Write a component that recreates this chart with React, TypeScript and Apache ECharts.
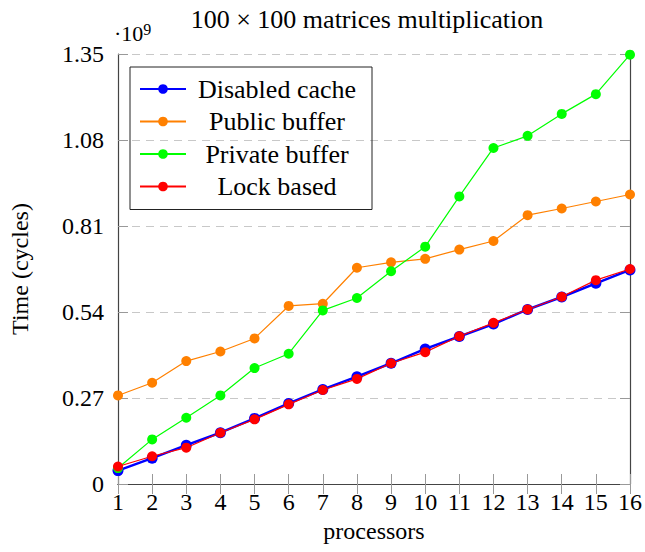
import React, { useEffect, useRef } from "react";
import * as echarts from "echarts";

const processors = [1, 2, 3, 4, 5, 6, 7, 8, 9, 10, 11, 12, 13, 14, 15, 16];
const disabledCache = [0.042, 0.081, 0.122, 0.161, 0.206, 0.253, 0.297, 0.337, 0.379, 0.424, 0.463, 0.502, 0.548, 0.587, 0.630, 0.672];
const publicBuffer = [0.278, 0.318, 0.386, 0.416, 0.457, 0.559, 0.566, 0.679, 0.696, 0.707, 0.736, 0.763, 0.844, 0.865, 0.887, 0.909];
const privateBuffer = [0.050, 0.140, 0.208, 0.278, 0.364, 0.409, 0.545, 0.584, 0.668, 0.745, 0.903, 1.055, 1.093, 1.162, 1.224, 1.348];
const lockBased = [0.055, 0.087, 0.114, 0.161, 0.203, 0.250, 0.295, 0.330, 0.379, 0.414, 0.464, 0.506, 0.548, 0.588, 0.640, 0.675];
const seriesNames = ["Disabled cache", "Public buffer", "Private buffer", "Lock based"];
const seriesColors = ["#0000ff", "#ff8000", "#00ff00", "#ff0000"];
const yTicks = [0, 0.27, 0.54, 0.81, 1.08, 1.35];

const FONT = "Liberation Serif";

export default function App() {
  const ref = useRef<HTMLDivElement>(null);
  useEffect(() => {
    if (!ref.current) return;
    const chart = echarts.init(ref.current, null, { renderer: "svg" });
    const allData = [disabledCache, publicBuffer, privateBuffer, lockBased];
    const series = seriesNames.map((name, i) => ({
      name,
      type: "line",
      data: processors.map((p, j) => [p, allData[i][j]]),
      symbol: "circle",
      symbolSize: i === 0 ? 11 : 10,
      itemStyle: { color: seriesColors[i] },
      lineStyle: { color: seriesColors[i], width: i === 0 ? 2.5 : 1.2 },
      z: 2 + i,
    }));
    const axisLine = { show: true, lineStyle: { color: "#444", width: 1.2 } };
    const axisTick = { show: true, inside: true, length: 10, lineStyle: { color: "#999", width: 1 } };
    const yMin = yTicks[0];
    const yMax = yTicks[yTicks.length - 1];
    const yInterval = yTicks[1] - yTicks[0];
    chart.setOption({
      animation: false,
      backgroundColor: "#fff",
      textStyle: { fontFamily: FONT },
      title: {
        text: "100 × 100 matrices multiplication",
        left: 362,
        top: 1,
        textAlign: "center",
        textStyle: { fontFamily: FONT, fontSize: 26, fontWeight: "normal", color: "#000" },
      },
      grid: { left: 114, right: 13, top: 54, bottom: 68 },
      legend: {
        orient: "vertical",
        left: 130,
        top: 67,
        padding: [9, 9, 10, 9],
        borderColor: "#222",
        borderWidth: 1,
        itemWidth: 46,
        itemHeight: 12,
        itemGap: 6.5,
        data: seriesNames,
        formatter: (n: string) => "{c|" + n + "}",
        textStyle: {
          fontFamily: FONT,
          fontSize: 26,
          color: "#000",
          rich: { c: { width: 172, align: "center", fontFamily: FONT, fontSize: 26, lineHeight: 24, color: "#000" } },
        },
      },
      xAxis: [
        {
          type: "value",
          min: processors[0],
          max: processors[processors.length - 1],
          interval: 1,
          name: "processors",
          nameLocation: "middle",
          nameGap: 33,
          nameTextStyle: { fontFamily: FONT, fontSize: 24, color: "#000" },
          axisLine,
          axisTick,
          axisLabel: { margin: 6, fontFamily: FONT, fontSize: 24, color: "#000" },
          splitLine: { show: false },
        },
        {
          type: "value",
          position: "top",
          min: processors[0],
          max: processors[processors.length - 1],
          interval: 1,
          axisLine,
          axisTick,
          axisLabel: { show: false },
          splitLine: { show: false },
        },
      ],
      yAxis: [
        {
          type: "value",
          min: yMin,
          max: yMax,
          interval: yInterval,
          name: "Time (cycles)",
          nameLocation: "middle",
          nameRotate: 90,
          nameGap: 86,
          nameTextStyle: { fontFamily: FONT, fontSize: 24, color: "#000" },
          axisLine,
          axisTick,
          axisLabel: {
            margin: 14,
            fontFamily: FONT,
            fontSize: 24,
            color: "#000",
            formatter: (v: number) => (Math.abs(v) < 1e-9 ? "0" : v.toFixed(2)),
          },
          splitLine: { show: true, lineStyle: { color: "#c8c8c8", type: [8, 6], width: 1 } },
        },
        {
          type: "value",
          position: "right",
          min: yMin,
          max: yMax,
          interval: yInterval,
          axisLine,
          axisTick,
          axisLabel: { show: false },
          splitLine: { show: false },
        },
      ],
      graphic: [
        {
          type: "text",
          left: 114,
          top: 21,
          style: {
            text: "·10{s|9}",
            fontFamily: FONT,
            fontSize: 22,
            fill: "#000",
            rich: { s: { fontSize: 16, verticalAlign: "top", fontFamily: FONT, fill: "#000", padding: [0, 0, 8, 0] } },
          },
        },
      ],
      series,
    });
    return () => chart.dispose();
  }, []);
  return (
    <div
      ref={ref}
      style={{ position: "fixed", left: 0, top: 0, width: 645, height: 552, background: "#fff" }}
    />
  );
}
